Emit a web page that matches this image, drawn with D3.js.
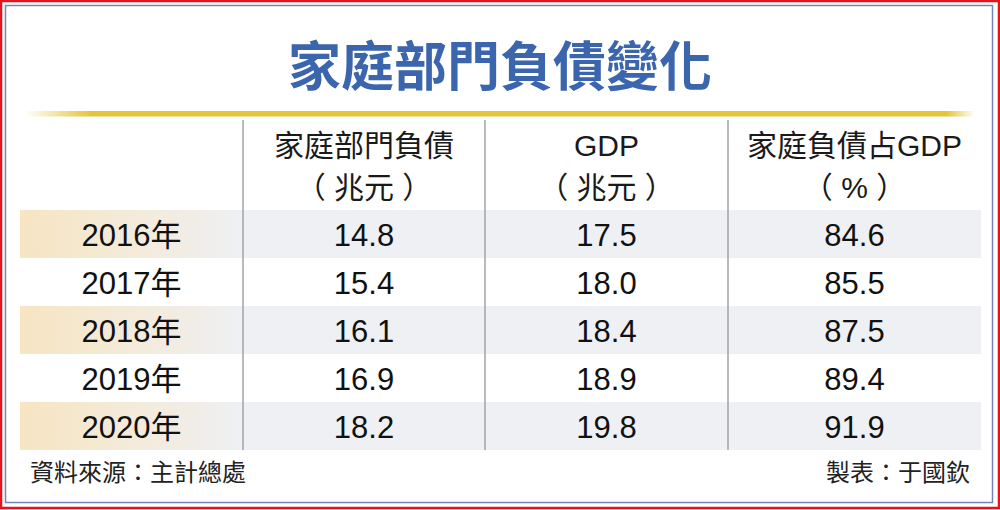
<!DOCTYPE html>
<html>
<head>
<meta charset="utf-8">
<script src="https://cdn.jsdelivr.net/npm/d3@7"></script>
<style>
  html, body { margin: 0; padding: 0; background: #fff; }
  svg { display: block; }
</style>
</head>
<body>
<div id="chart"></div>
<script>
// table data
const title = "家庭部門負債變化";
const years = ["2016年", "2017年", "2018年", "2019年", "2020年"];
const householdDebt = [14.8, 15.4, 16.1, 16.9, 18.2];
const gdp = [17.5, 18.0, 18.4, 18.9, 19.8];
const debtRatio = [84.6, 85.5, 87.5, 89.4, 91.9];
const headers = [
    ["家庭部門負債", "（ 兆元 ）"],
    ["GDP", "（ 兆元 ）"],
    ["家庭負債占GDP", "（ % ）"]
];
const source = "資料來源：主計總處";
const credit = "製表：于國欽";

const w = 1000;
const h = 510;
const fontLatin = "'Liberation Sans', Arial, 'Noto Sans CJK TC', sans-serif";
const fontCJK = "'Noto Sans CJK TC', 'Noto Sans CJK SC', sans-serif";

const svg = d3.select("#chart")
    .append("svg")
    .attr("width", w)
    .attr("height", h);

// column edges: year col, then the three value cols (not equal widths)
const colEdges = [20, 243, 485, 728, 981];
const colLeft = i => colEdges[i];
const colMid = i => (colEdges[i] + colEdges[i + 1]) / 2;

const y = d3.scaleBand()
    .domain(years)
    .range([210, 450]);

const fmt = d3.format(".1f");

// gradients
const defs = svg.append("defs");
const gold = defs.append("linearGradient")
    .attr("id", "goldLine")
    .attr("x1", "0%").attr("x2", "100%");
[[0, "#ffffff"], [0.07, "#e3c53a"], [0.97, "#e3c53a"], [1, "#ffffff"]].forEach(s => {
    gold.append("stop").attr("offset", s[0]).attr("stop-color", s[1]);
});
const yearBand = defs.append("linearGradient")
    .attr("id", "yearBand")
    .attr("x1", "0%").attr("x2", "100%");
[[0, "#f7e5c2"], [0.55, "#f3ebdc"], [1, "#eef0f3"]].forEach(s => {
    yearBand.append("stop").attr("offset", s[0]).attr("stop-color", s[1]);
});

// frame
svg.append("rect")
    .attr("x", 1).attr("y", 1)
    .attr("width", w - 2).attr("height", h - 3)
    .attr("fill", "#fff")
    .attr("stroke", "#e8121c")
    .attr("stroke-width", 2.5);
svg.append("rect")
    .attr("x", 5.5).attr("y", 5.5)
    .attr("width", 987).attr("height", 497)
    .attr("fill", "none")
    .attr("stroke", "#7086b8")
    .attr("stroke-width", 1.5);

// title
svg.append("text")
    .attr("x", w / 2)
    .attr("y", 63)
    .attr("text-anchor", "middle")
    .attr("dominant-baseline", "central")
    .attr("font-family", fontCJK)
    .attr("font-weight", 700)
    .attr("font-size", 53)
    .attr("fill", "#3b66ae")
    .text(title);

svg.append("rect")
    .attr("x", 25).attr("y", 111)
    .attr("width", 950).attr("height", 5.5)
    .attr("fill", "url(#goldLine)");

// shaded rows
const shaded = years.filter((d, i) => i % 2 === 0);
shaded.forEach(yr => {
    svg.append("rect")
        .attr("x", colLeft(0)).attr("y", y(yr))
        .attr("width", colEdges[1] - colEdges[0]).attr("height", y.bandwidth())
        .attr("fill", "url(#yearBand)");
    svg.append("rect")
        .attr("x", colLeft(1)).attr("y", y(yr))
        .attr("width", colEdges[4] - colEdges[1]).attr("height", y.bandwidth())
        .attr("fill", "#eef0f4");
});

// column dividers
svg.selectAll("line.divider")
    .data([1, 2, 3])
    .enter()
    .append("line")
    .attr("class", "divider")
    .attr("x1", d => colLeft(d)).attr("x2", d => colLeft(d))
    .attr("y1", 120).attr("y2", 450)
    .attr("stroke", "#a3a3a3")
    .attr("stroke-width", 1.5);

// headers
headers.forEach((hd, i) => {
    hd.forEach((line, j) => {
        svg.append("text")
            .attr("x", colMid(i + 1))
            .attr("y", 145 + j * 42)
            .attr("text-anchor", "middle")
            .attr("dominant-baseline", "central")
            .attr("font-family", fontLatin)
            .attr("font-size", 30)
            .attr("fill", "#1a1a1a")
            .style("white-space", "pre")
            .text(line);
    });
});

// body rows
const rows = years.map((yr, i) => [yr, fmt(householdDebt[i]), fmt(gdp[i]), fmt(debtRatio[i])]);
rows.forEach(r => {
    r.forEach((cell, c) => {
        svg.append("text")
            .attr("x", colMid(c))
            .attr("y", y(r[0]) + y.bandwidth() / 2 + 1)
            .attr("text-anchor", "middle")
            .attr("dominant-baseline", "central")
            .attr("font-family", fontLatin)
            .attr("font-size", 31)
            .attr("fill", "#111")
            .text(cell);
    });
});

// footer
svg.append("text")
    .attr("x", 30).attr("y", 470)
    .attr("dominant-baseline", "central")
    .attr("font-family", fontCJK)
    .attr("font-size", 24)
    .attr("fill", "#222")
    .text(source);
svg.append("text")
    .attr("x", 970).attr("y", 470)
    .attr("text-anchor", "end")
    .attr("dominant-baseline", "central")
    .attr("font-family", fontCJK)
    .attr("font-size", 24)
    .attr("fill", "#222")
    .text(credit);
</script>
</body>
</html>
